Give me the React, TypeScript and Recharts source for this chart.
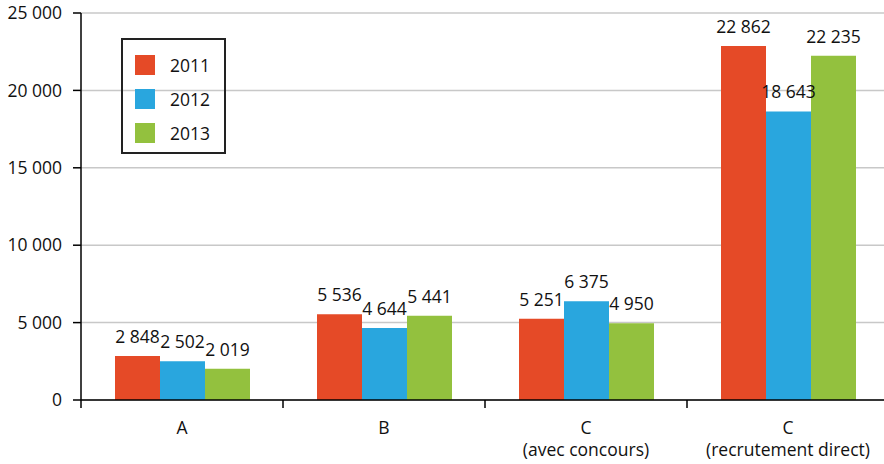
import { Bar, BarChart, CartesianGrid, LabelList, XAxis, YAxis } from "recharts";

// catégories et effectifs par année
const categories = ["A", "B", "C\n(avec concours)", "C\n(recrutement direct)"];
const years = ["2011", "2012", "2013"];
const values2011 = [2848, 5536, 5251, 22862];
const values2012 = [2502, 4644, 6375, 18643];
const values2013 = [2019, 5441, 4950, 22235];
const yTicks = [0, 5000, 10000, 15000, 20000, 25000];

const colors = ["#E54A27", "#29A6DE", "#93C13E"];
const FONT = "'Open Sans', 'Noto Sans', sans-serif";
const FS = 17.5;

const data = categories.map((name, i) => ({
  name,
  "2011": values2011[i],
  "2012": values2012[i],
  "2013": values2013[i],
}));

const fmt = (v: number | string) => String(v).replace(/\B(?=(\d{3})+(?!\d))/g, " ");

function CategoryTick(props: any) {
  const { x, y, payload } = props;
  const half = payload.offset || 101;
  const lines = String(payload.value).split("\n");
  return (
    <g>
      <line x1={x - half} x2={x - half} y1={y} y2={y + 8} stroke='#000' strokeWidth={1.5} />
      <text x={x} y={y} textAnchor='middle' fontSize={FS} fontFamily={FONT} fill='#111'>
        {lines.map((l, i) => (
          <tspan key={i} x={x} dy={i === 0 ? 34 : 22}>
            {l}
          </tspan>
        ))}
      </text>
    </g>
  );
}

// étiquette de valeur au-dessus de la barre, sans retour à la ligne
function ValueLabel(props: any) {
  const { x, y, width, value } = props;
  return (
    <text x={x + width / 2} y={y - 13} textAnchor='middle' fontSize={FS} fontFamily={FONT} fill='#111'>
      {fmt(value)}
    </text>
  );
}

export default function App() {
  return (
    <div style={{ position: "absolute", left: 0, top: 0, width: 884, height: 464, overflow: "hidden", background: "#fff" }}>
      <BarChart
        width={889}
        height={464}
        data={data}
        margin={{ top: 13, right: 0, bottom: 0, left: 0 }}
        barGap={0}
        barCategoryGap={34}
      >
        <CartesianGrid vertical={false} stroke='#c8c8c8' strokeWidth={1.5} />
        <XAxis
          dataKey='name'
          height={64}
          interval={0}
          axisLine={{ stroke: "#000", strokeWidth: 1.5 }}
          tickLine={false}
          tickSize={0}
          tickMargin={0}
          tick={<CategoryTick />}
        />
        <YAxis
          width={81}
          domain={[0, 25000]}
          ticks={yTicks}
          interval={0}
          tickFormatter={fmt}
          axisLine={{ stroke: "#000", strokeWidth: 1.5 }}
          tickLine={{ stroke: "#000", strokeWidth: 1.5 }}
          tickSize={8}
          tickMargin={11}
          tick={{ fontSize: FS, fontFamily: FONT, fill: "#111" }}
        />
        {years.map((yr, i) => (
          <Bar key={yr} dataKey={yr} fill={colors[i]} isAnimationActive={false}>
            <LabelList dataKey={yr} content={<ValueLabel />} />
          </Bar>
        ))}
      </BarChart>
      <div
        style={{
          position: "absolute",
          left: 121,
          top: 38,
          width: 101,
          height: 112,
          border: "2px solid #222",
          fontFamily: FONT,
          fontSize: FS,
          color: "#111",
        }}
      >
        {years.map((yr, i) => (
          <div key={yr} style={{ position: "absolute", left: 12, top: 15 + i * 34, height: 20, display: "flex", alignItems: "center" }}>
            <div style={{ width: 20, height: 20, background: colors[i] }} />
            <span style={{ marginLeft: 15 }}>{yr}</span>
          </div>
        ))}
      </div>
    </div>
  );
}
